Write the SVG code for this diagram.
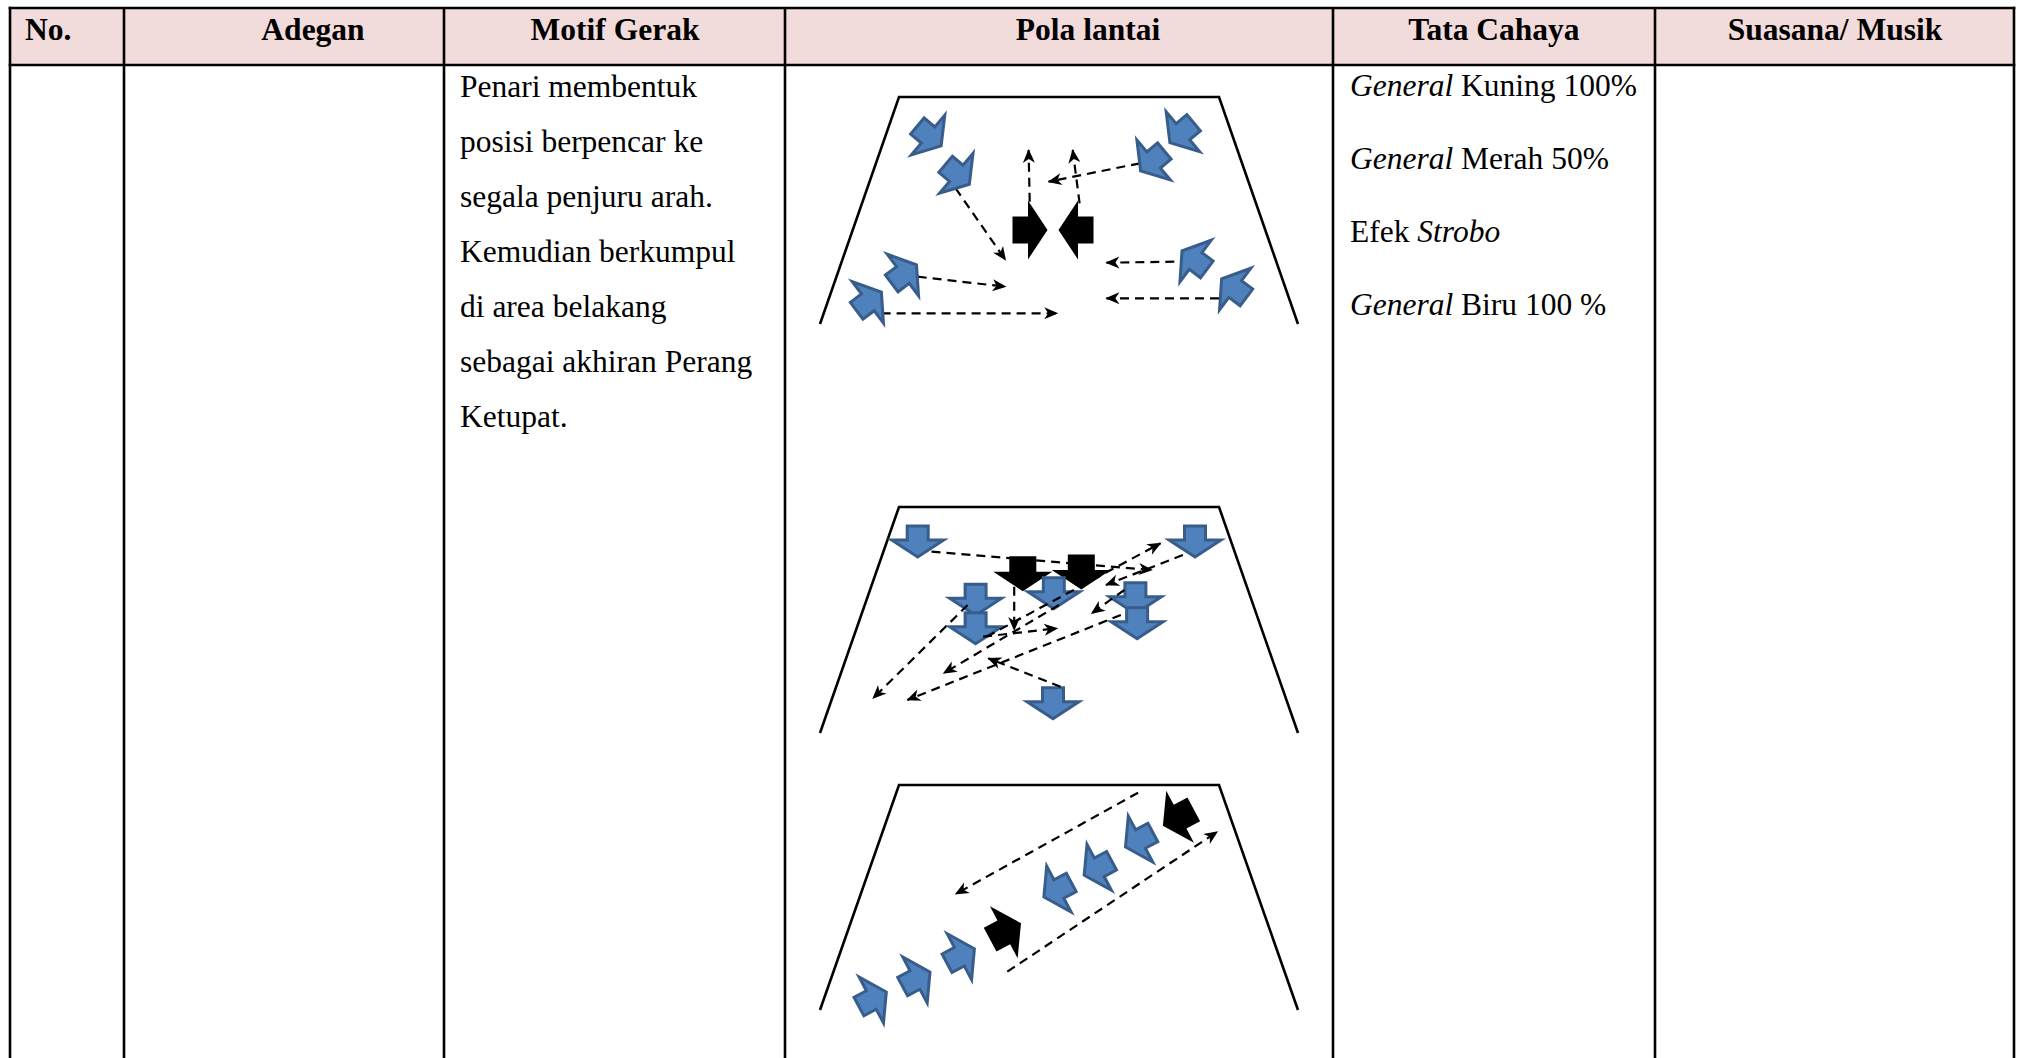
<svg xmlns="http://www.w3.org/2000/svg" xmlns:xlink="http://www.w3.org/1999/xlink" width="2021" height="1058" viewBox="0 0 2021 1058">
  <style>
    .grid { stroke: #000; stroke-width: 2.6; fill: none; }
    .head { font-family: "Liberation Serif", "Times New Roman", serif; font-weight: bold; font-size: 31.5px; fill: #000; }
    .body { font-family: "Liberation Serif", "Times New Roman", serif; font-size: 31.5px; fill: #000; }
    .stage { stroke: #000; stroke-width: 2.6; fill: none; stroke-linejoin: miter; }
    .dancer { fill: #4F81BD; stroke: #385D8A; stroke-width: 3; stroke-linejoin: miter; }
    .lead { fill: #000; }
    .path { stroke: #000; stroke-width: 2.2; fill: none; stroke-dasharray: 9 6; marker-end: url(#tip); }
  </style>
  <defs>
    <!-- block arrow pointing along +x, base of the head at the origin -->
    <path id="blue-arrow" class="dancer" d="M-14,-10.5 L0,-10.5 L0,-26 L17,0 L0,26 L0,10.5 L-14,10.5 Z"/>
    <path id="black-arrow" class="lead" d="M-15.5,-13.5 L0,-13.5 L0,-29.5 L19.5,0 L0,29.5 L0,13.5 L-15.5,13.5 Z"/>
    <marker id="tip" markerUnits="userSpaceOnUse" markerWidth="16" markerHeight="14" refX="0" refY="0" viewBox="-14 -7 16 14" orient="auto">
      <path d="M1,0 L-13,-6 L-9,0 L-13,6 Z" fill="#000"/>
    </marker>
  </defs>

  <rect width="2021" height="1058" fill="#fff"/>

  <!-- header row -->
  <g id="header">
    <rect x="10" y="8" width="2004" height="57" fill="#F2DBDB"/>
    <text class="head" x="25" y="40">No.</text>
    <text class="head" x="313" y="40" text-anchor="middle">Adegan</text>
    <text class="head" x="615" y="40" text-anchor="middle">Motif Gerak</text>
    <text class="head" x="1088" y="40" text-anchor="middle">Pola lantai</text>
    <text class="head" x="1494" y="40" text-anchor="middle">Tata Cahaya</text>
    <text class="head" x="1835" y="40" text-anchor="middle">Suasana/ Musik</text>
  </g>

  <!-- table rules -->
  <g id="table-grid" class="grid">
    <line x1="8.7" y1="8" x2="2015.3" y2="8"/>
    <line x1="8.7" y1="65" x2="2015.3" y2="65"/>
    <line x1="10" y1="6.7" x2="10" y2="1058"/>
    <line x1="124" y1="8" x2="124" y2="1058"/>
    <line x1="444" y1="8" x2="444" y2="1058"/>
    <line x1="785" y1="8" x2="785" y2="1058"/>
    <line x1="1333" y1="8" x2="1333" y2="1058"/>
    <line x1="1655" y1="8" x2="1655" y2="1058"/>
    <line x1="2014" y1="6.7" x2="2014" y2="1058"/>
  </g>

  <!-- Motif Gerak -->
  <g id="motif-text" class="body">
    <text x="460" y="97">Penari membentuk</text>
    <text x="460" y="152">posisi berpencar ke</text>
    <text x="460" y="207">segala penjuru arah.</text>
    <text x="460" y="262">Kemudian berkumpul</text>
    <text x="460" y="317">di area belakang</text>
    <text x="460" y="372">sebagai akhiran Perang</text>
    <text x="460" y="427">Ketupat.</text>
  </g>

  <!-- Tata Cahaya -->
  <g id="lighting-text" class="body">
    <text x="1350" y="96"><tspan font-style="italic">General</tspan> Kuning 100%</text>
    <text x="1350" y="169"><tspan font-style="italic">General</tspan> Merah 50%</text>
    <text x="1350" y="242">Efek <tspan font-style="italic">Strobo</tspan></text>
    <text x="1350" y="315"><tspan font-style="italic">General</tspan> Biru 100 %</text>
  </g>

  <!-- floor pattern 1: scatter, then gather -->
  <g id="floor-1">
    <polyline class="stage" points="820,324 899,97 1219,97 1298,324"/>
    <g id="floor-1-paths">
      <line class="path" x1="955.6" y1="188.3" x2="1005.5" y2="260"/>
      <line class="path" x1="1029.7" y1="201.7" x2="1028.6" y2="150"/>
      <line class="path" x1="1079.6" y1="203.3" x2="1072.7" y2="150"/>
      <line class="path" x1="1139.9" y1="163.3" x2="1048.6" y2="181.7"/>
      <line class="path" x1="917.7" y1="276.7" x2="1005.5" y2="286.7"/>
      <line class="path" x1="881.6" y1="313.3" x2="1057.2" y2="313.3"/>
      <line class="path" x1="1174.3" y1="261.7" x2="1106.4" y2="262.7"/>
      <line class="path" x1="1219" y1="298.3" x2="1106.4" y2="298.3"/>
    </g>
    <use xlink:href="#black-arrow" transform="translate(1028,230)"/>
    <use xlink:href="#black-arrow" transform="translate(1078,230) rotate(180)"/>
    <use xlink:href="#blue-arrow" transform="translate(928.1,135) rotate(40)"/>
    <use xlink:href="#blue-arrow" transform="translate(956.3,173.3) rotate(40)"/>
    <use xlink:href="#blue-arrow" transform="translate(1182.9,131.7) rotate(140)"/>
    <use xlink:href="#blue-arrow" transform="translate(1153.6,160) rotate(140)"/>
    <use xlink:href="#blue-arrow" transform="translate(902.9,275) rotate(-37)"/>
    <use xlink:href="#blue-arrow" transform="translate(867.8,302.3) rotate(-37)"/>
    <use xlink:href="#blue-arrow" transform="translate(1195.6,261) rotate(217)"/>
    <use xlink:href="#blue-arrow" transform="translate(1235.2,289) rotate(217)"/>
  </g>

  <!-- floor pattern 2: crossing paths -->
  <g id="floor-2">
    <polyline class="stage" points="820,733 899,507 1219,507 1298,733"/>
    <use xlink:href="#blue-arrow" transform="translate(917.7,540) rotate(90)"/>
    <use xlink:href="#blue-arrow" transform="translate(1195,540) rotate(90)"/>
    <use xlink:href="#black-arrow" transform="translate(1022.8,571.7) rotate(90)"/>
    <use xlink:href="#black-arrow" transform="translate(1081.3,570) rotate(90)"/>
    <use xlink:href="#blue-arrow" transform="translate(1053.8,591.7) rotate(90)"/>
    <use xlink:href="#blue-arrow" transform="translate(975.6,598.3) rotate(90)"/>
    <use xlink:href="#blue-arrow" transform="translate(975.6,626.7) rotate(90)"/>
    <use xlink:href="#blue-arrow" transform="translate(1135.4,596.7) rotate(90)"/>
    <use xlink:href="#blue-arrow" transform="translate(1137.1,621.7) rotate(90)"/>
    <use xlink:href="#blue-arrow" transform="translate(1053,701.7) rotate(90)"/>
    <g id="floor-2-paths">
      <line class="path" x1="931.5" y1="551.7" x2="1151.9" y2="570"/>
      <line class="path" x1="1182.9" y1="555" x2="1106" y2="585"/>
      <line class="path" x1="986.6" y1="636.7" x2="1160.5" y2="543.3"/>
      <line class="path" x1="1124.4" y1="590" x2="1091.6" y2="613.3"/>
      <line class="path" x1="1058.9" y1="605" x2="943.6" y2="673.3"/>
      <line class="path" x1="1120.9" y1="615" x2="907.4" y2="700"/>
      <line class="path" x1="967.7" y1="605" x2="873" y2="698.3"/>
      <line class="path" x1="1060.6" y1="686.7" x2="988.3" y2="658.3"/>
      <line class="path" x1="1014.2" y1="586.7" x2="1014.2" y2="630"/>
      <line class="path" x1="983.2" y1="636.7" x2="1057.2" y2="628.3"/>
    </g>
  </g>

  <!-- floor pattern 3: diagonal line -->
  <g id="floor-3">
    <polyline class="stage" points="820,1010 899,785 1219,785 1298,1010"/>
    <g id="floor-3-paths">
      <line class="path" x1="1138.1" y1="792.7" x2="955.6" y2="894"/>
      <line class="path" x1="1007.3" y1="971.7" x2="1217.3" y2="831.7"/>
    </g>
    <use xlink:href="#blue-arrow" transform="translate(871.3,1000) rotate(-28)"/>
    <use xlink:href="#blue-arrow" transform="translate(915,980) rotate(-28)"/>
    <use xlink:href="#blue-arrow" transform="translate(959.4,956.7) rotate(-28)"/>
    <use xlink:href="#black-arrow" transform="translate(1003.8,932.3) rotate(-28)"/>
    <use xlink:href="#blue-arrow" transform="translate(1058.9,889) rotate(152)"/>
    <use xlink:href="#blue-arrow" transform="translate(1099.2,867.3) rotate(152)"/>
    <use xlink:href="#blue-arrow" transform="translate(1140.5,839) rotate(152)"/>
    <use xlink:href="#black-arrow" transform="translate(1180.1,816.7) rotate(152)"/>
  </g>
</svg>
